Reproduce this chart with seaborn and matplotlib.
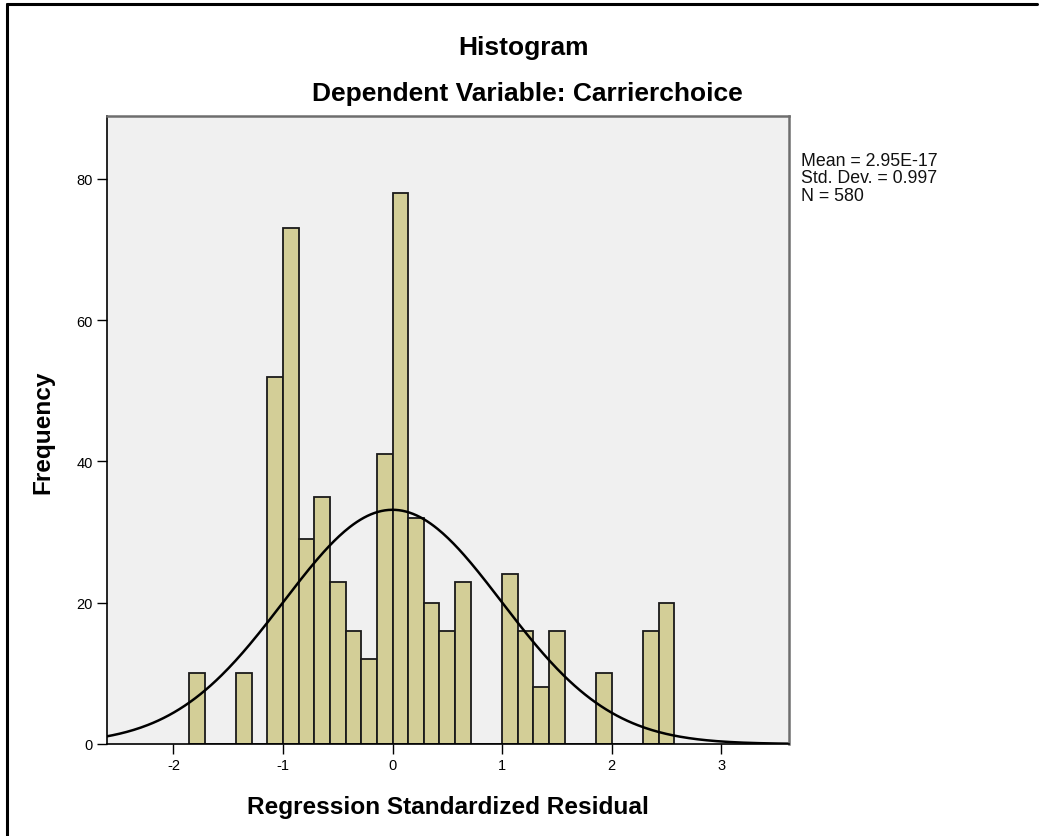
import numpy as np
import pandas as pd
import matplotlib
matplotlib.use("Agg")
import matplotlib.pyplot as plt
from matplotlib.lines import Line2D
import seaborn as sns

# ---- data ----
bin_centers = [-1.786, -1.357, -1.071, -0.929, -0.786, -0.643, -0.500, -0.357,
               -0.214, -0.071, 0.071, 0.214, 0.357, 0.500, 0.643, 1.071,
               1.214, 1.357, 1.500, 1.929, 2.357, 2.500]
frequencies = [10, 10, 52, 73, 29, 35, 23, 16, 12, 41, 78, 32, 20, 16, 23,
               24, 16, 8, 16, 10, 16, 20]
x_ticks = [-2, -1, 0, 1, 2, 3]
y_ticks = [0, 20, 40, 60, 80]
mean_val = 2.95e-17
sd_val = 0.997
n_val = 580
stats_lines = ["Mean = 2.95E-17", "Std. Dev. = 0.997", "N = 580"]
title = "Histogram"
subtitle = "Dependent Variable: Carrierchoice"
x_label = "Regression Standardized Residual"
y_label = "Frequency"

bin_width = 1 / 7
bin_edges = [k * bin_width for k in range(-13, 19)]

df = pd.DataFrame({"residual": bin_centers, "count": frequencies})

sns.set_theme(style="white")
plt.rcParams["font.family"] = ["Liberation Sans", "DejaVu Sans"]
plt.rcParams["text.color"] = "black"
plt.rcParams["axes.labelcolor"] = "black"

W, H = 1039, 837
fig = plt.figure(figsize=(W / 100, H / 100), dpi=100)
fig.patch.set_facecolor("white")

ax = fig.add_axes([107 / W, 92 / H, 682 / W, 628 / H])
ax.set_facecolor("#F0F0F0")

sns.histplot(data=df, x="residual", weights="count", bins=bin_edges,
             color="#D3CE97", edgecolor="#1a1a1a", linewidth=1.3,
             alpha=1.0, ax=ax)

xs = np.linspace(-2.7, 3.7, 400)
ys = n_val * bin_width * np.exp(-0.5 * ((xs - mean_val) / sd_val) ** 2) / (sd_val * np.sqrt(2 * np.pi))
sns.lineplot(x=xs, y=ys, color="black", linewidth=1.8, ax=ax)

ax.set_xlim(-2.607, 3.62)
ax.set_ylim(0, 88.9)
ax.set_xticks(x_ticks)
ax.set_yticks(y_ticks)
ax.set_xticklabels([str(t) for t in x_ticks])
ax.set_yticklabels([str(t) for t in y_ticks])
ax.tick_params(axis="both", direction="out", length=7, width=1.0,
               color="black", labelsize=10.5, labelcolor="black", pad=3,
               bottom=True, left=True)

for side in ["left", "bottom"]:
    ax.spines[side].set_color("black")
    ax.spines[side].set_linewidth(1.2)
for side in ["top", "right"]:
    ax.spines[side].set_color("#6e6e6e")
    ax.spines[side].set_linewidth(1.8)

ax.set_xlabel(x_label, fontsize=17.6, fontweight="bold", labelpad=17,
              color="black")
ax.set_ylabel("")
fig.text(43 / W, 1 - 432 / H, y_label, rotation=90, ha="center", va="center",
         fontsize=17.6, fontweight="bold", color="black")

fig.text(524 / W, 1 - 48 / H, title, ha="center", va="center",
         fontsize=19, fontweight="bold", color="black")
fig.text(527 / W, 1 - 94 / H, subtitle, ha="center", va="center",
         fontsize=19, fontweight="bold", color="black")

fig.text(801 / W, 1 - 153 / H, "\n".join(stats_lines), ha="left", va="top",
         fontsize=12.8, linespacing=1.02, color="#111111")

# outer frame (top and left only)
fig.add_artist(Line2D([7 / W, 1037 / W], [1 - 5 / H, 1 - 5 / H],
                      transform=fig.transFigure, color="black", linewidth=2.2))
fig.add_artist(Line2D([7 / W, 7 / W], [0, 1 - 5 / H],
                      transform=fig.transFigure, color="black", linewidth=2.2))

fig.savefig("out.png", dpi=100)
